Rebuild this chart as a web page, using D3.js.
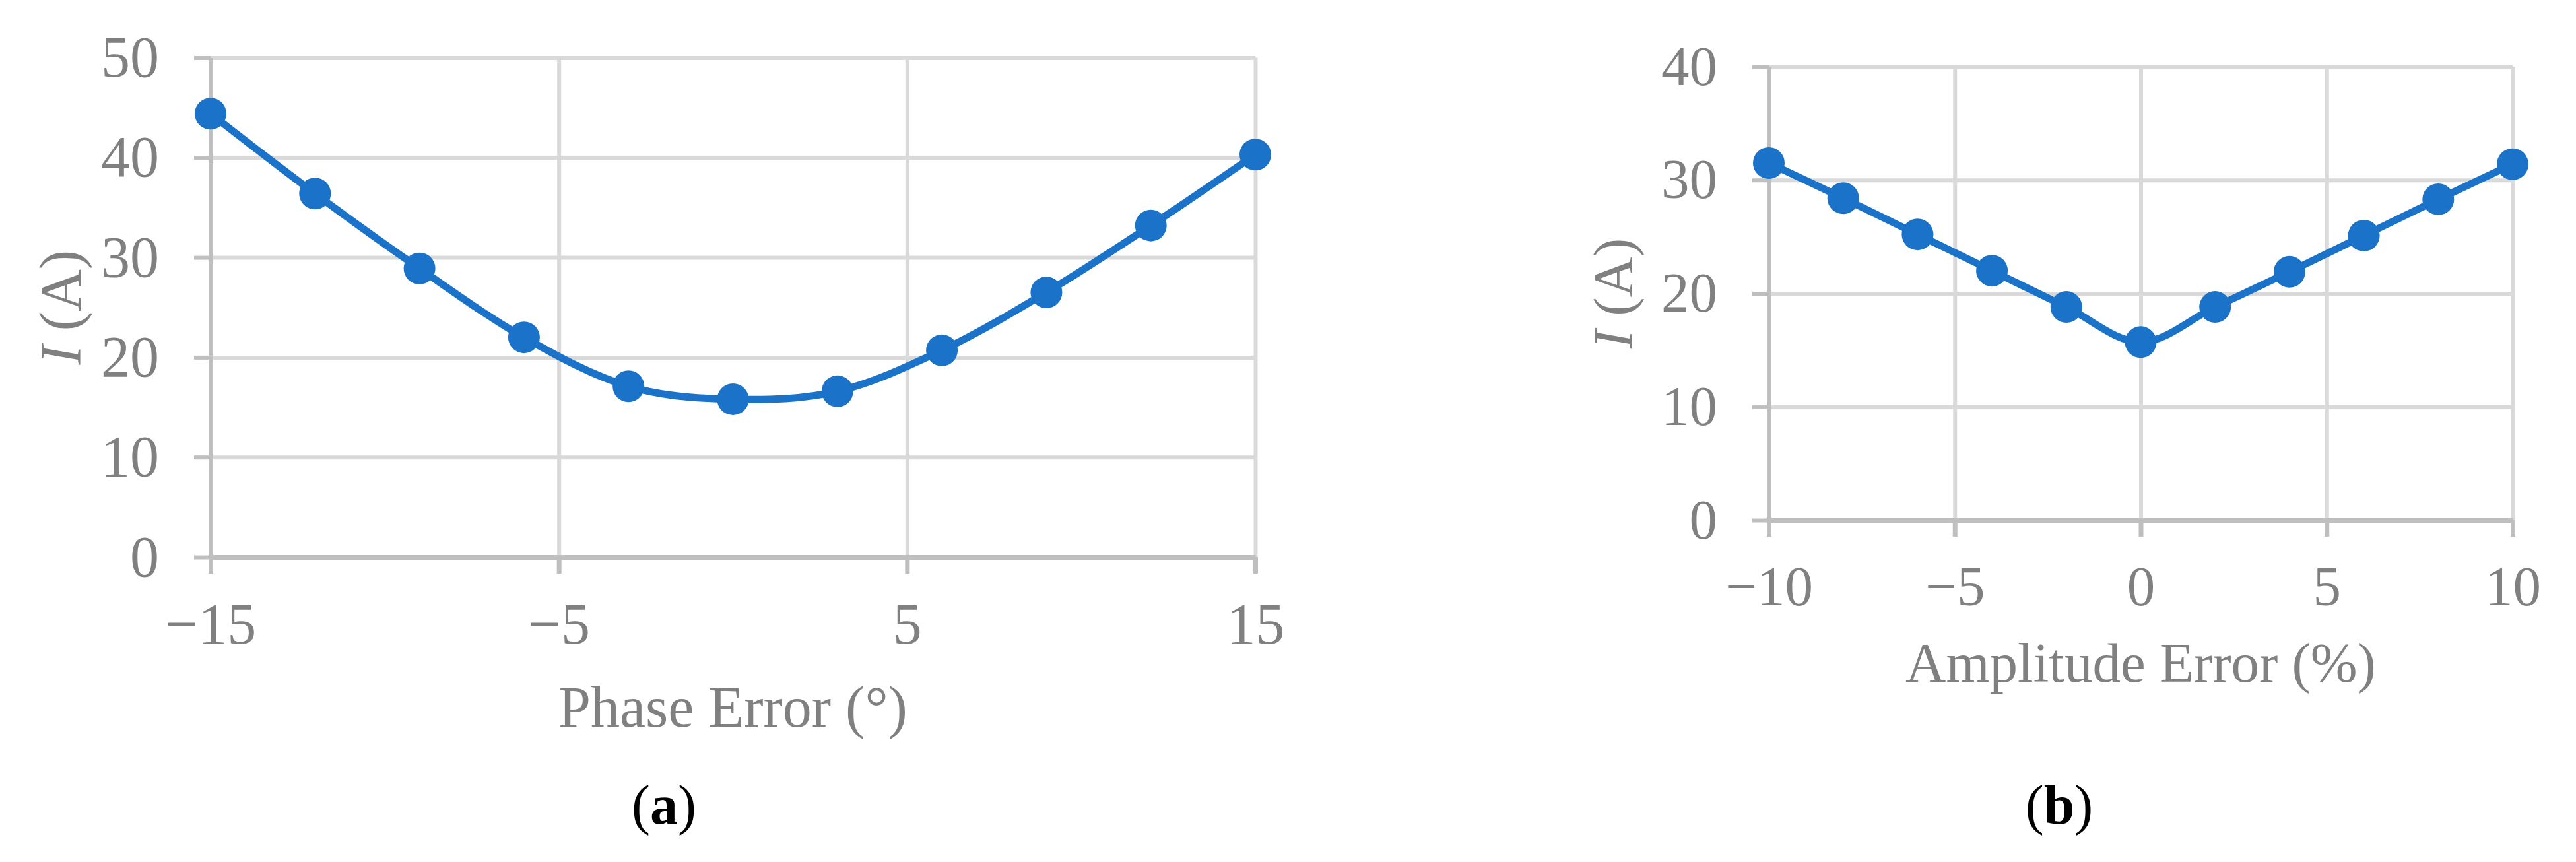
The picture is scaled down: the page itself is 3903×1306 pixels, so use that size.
<!DOCTYPE html>
<html>
<head>
<meta charset="utf-8">
<script src="https://cdn.jsdelivr.net/npm/d3@7"></script>
<style>
  html, body { margin: 0; padding: 0; background: #fff; }
  svg { display: block; }
  text { font-family: "Liberation Serif", "Times New Roman", serif; }
</style>
</head>
<body>
<svg id="chart" width="3903" height="1306"></svg>
<script>
// ---- Data ----
const phaseError = [-15, -12, -9, -6, -3, 0, 3, 6, 9, 12, 15];
const phaseCurrent = [44.4, 36.4, 28.9, 22.0, 17.1, 15.8, 16.6, 20.7, 26.5, 33.2, 40.3];
const amplitudeError = [-10, -8, -6, -4, -2, 0, 2, 4, 6, 8, 10];
const amplitudeCurrent = [31.5, 28.4, 25.2, 22.0, 18.8, 15.7, 18.8, 21.9, 25.1, 28.3, 31.4];
const phaseXTicks = [-15, -5, 5, 15];
const phaseYTicks = [0, 10, 20, 30, 40, 50];
const ampXTicks = [-10, -5, 0, 5, 10];
const ampYTicks = [0, 10, 20, 30, 40];
const phaseXLabel = "Phase Error (°)";
const ampXLabel = "Amplitude Error (%)";
const panelLabels = ["a", "b"];

const svg = d3.select("#chart");
const fmt = d => (d < 0 ? "\u2212" + Math.abs(d) : String(d));

function panel(opt) {
  const w = opt.x1 - opt.x0, h = opt.yBot - opt.yTop;
  const x = d3.scaleLinear().domain(opt.xDomain).range([0, w]);
  const y = d3.scaleLinear().domain(opt.yDomain).range([h, 0]);
  const g = svg.append("g").attr("transform", `translate(${opt.x0},${opt.yTop})`);

  // gridlines
  const gy = g.append("g").call(d3.axisLeft(y).tickValues(opt.yTicks).tickSize(-w).tickFormat(""));
  gy.select(".domain").remove();
  gy.selectAll("line").attr("stroke", "#d9d9d9").attr("stroke-width", 6);
  const gx = g.append("g").attr("transform", `translate(0,${h})`)
    .call(d3.axisBottom(x).tickValues(opt.xTicks).tickSize(-h).tickFormat(""));
  gx.select(".domain").remove();
  gx.selectAll("line").attr("stroke", "#d9d9d9").attr("stroke-width", 6);

  // axes
  const ay = g.append("g").call(d3.axisLeft(y).tickValues(opt.yTicks).tickSize(25).tickSizeOuter(0)
    .tickPadding(53).tickFormat(fmt));
  ay.select(".domain").attr("stroke", "#bfbfbf").attr("stroke-width", 7);
  ay.selectAll("line").attr("stroke", "#bfbfbf").attr("stroke-width", 6);
  ay.selectAll("text").attr("fill", "#808080").attr("font-size", opt.fs)
    .attr("font-family", '"Liberation Serif", "Times New Roman", serif');

  const ax = g.append("g").attr("transform", `translate(0,${h})`)
    .call(d3.axisBottom(x).tickValues(opt.xTicks).tickSize(25).tickSizeOuter(0)
    .tickPadding(44).tickFormat(fmt));
  ax.select(".domain").attr("stroke", "#bfbfbf").attr("stroke-width", 7);
  ax.selectAll("line").attr("stroke", "#bfbfbf").attr("stroke-width", 7);
  ax.selectAll("text").attr("fill", "#808080").attr("font-size", opt.fs)
    .attr("font-family", '"Liberation Serif", "Times New Roman", serif');

  // series
  const pts = opt.xs.map((v, i) => [v, opt.ys[i]]);
  const line = d3.line().x(d => x(d[0])).y(d => y(d[1])).curve(d3.curveCardinal.tension(0));
  g.append("path").datum(pts).attr("d", line).attr("fill", "none")
    .attr("stroke", "#1a73c8").attr("stroke-width", 11).attr("stroke-linejoin", "round");
  g.selectAll("circle.pt").data(pts).enter().append("circle").attr("class", "pt")
    .attr("cx", d => x(d[0])).attr("cy", d => y(d[1])).attr("r", 24).attr("fill", "#1a73c8");

  // axis titles
  svg.append("text").attr("x", (opt.x0 + opt.x1) / 2).attr("y", opt.xTitleY)
    .attr("text-anchor", "middle").attr("fill", "#808080").attr("font-size", opt.fs)
    .text(opt.xLabel);
  const yt = svg.append("text")
    .attr("transform", `translate(${opt.yTitleX},${(opt.yTop + opt.yBot) / 2}) rotate(-90)`)
    .attr("text-anchor", "middle").attr("dy", "0.33em").attr("fill", "#808080").attr("font-size", opt.fs);
  yt.append("tspan").attr("font-style", "italic").text("I");
  yt.append("tspan").text(" (A)");

  // panel label
  const pl = svg.append("text").attr("x", opt.labelX).attr("y", 1248).attr("text-anchor", "middle")
    .attr("fill", "#000").attr("font-size", 84);
  pl.append("tspan").text("(");
  pl.append("tspan").attr("font-weight", "bold").text(opt.panel);
  pl.append("tspan").text(")");
}

panel({
  x0: 319, x1: 1902, yTop: 87.5, yBot: 844,
  xDomain: [-15, 15], yDomain: [0, 50], xTicks: phaseXTicks, yTicks: phaseYTicks,
  xs: phaseError, ys: phaseCurrent, xLabel: phaseXLabel, fs: 88,
  xTitleY: 1101, yTitleX: 92, labelX: 1006, panel: panelLabels[0]
});
panel({
  x0: 2680, x1: 3807, yTop: 101, yBot: 788,
  xDomain: [-10, 10], yDomain: [0, 40], xTicks: ampXTicks, yTicks: ampYTicks,
  xs: amplitudeError, ys: amplitudeCurrent, xLabel: ampXLabel, fs: 85,
  xTitleY: 1033, yTitleX: 2445, labelX: 3120, panel: panelLabels[1]
});
</script>
</body>
</html>
